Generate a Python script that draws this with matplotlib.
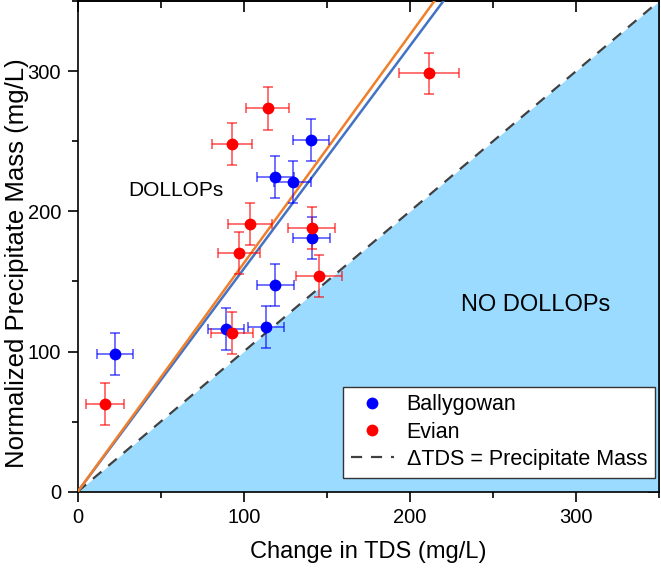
import numpy as np
import matplotlib
matplotlib.use('Agg')
import matplotlib.pyplot as plt
from matplotlib.ticker import MultipleLocator

plt.rcParams['font.family'] = ['Liberation Sans', 'DejaVu Sans']

# Ballygowan samples
bally_x = [22.4, 89.4, 113.4, 119.0, 140.8, 129.4, 119.0, 140.6]
bally_y = [98.5, 116.3, 117.7, 147.2, 180.7, 221.1, 224.7, 250.6]
bally_xerr = [11, 11, 11, 11, 11, 11, 11, 11]
bally_yerr = [15, 15, 15, 15, 15, 15, 15, 15]

# Evian samples
evian_x = [16.4, 92.8, 97.0, 103.8, 140.8, 145.4, 92.8, 114.3, 211.6]
evian_y = [62.3, 113.2, 170.0, 190.9, 188.3, 154.1, 248.0, 273.4, 298.4]
evian_xerr = [11.5, 12.7, 12.8, 13.2, 14, 14, 12.2, 12.8, 18]
evian_yerr = [15, 15, 15, 15, 15, 15, 15, 15, 14.7]

# slopes of the fitted lines through the origin
bally_slope = 1.59
evian_slope = 1.63

xmax = 350
ymax = 350

fig = plt.figure(figsize=(6.61, 5.70), dpi=100)
ax = fig.add_axes([0.1175, 0.1374, 0.8795, 0.8606])

xs = np.array([0, xmax])
# region where precipitate mass < change in TDS
ax.fill_between(xs, 0, xs, color='#9BDBFF', lw=0, zorder=1)
ax.plot(xs, xs, color='#404040', lw=1.6, dashes=(5, 4), zorder=2,
        label='\u0394TDS = Precipitate Mass')

# fit lines
ax.plot(xs, bally_slope * xs, color='#4472C4', lw=1.8, zorder=3)
ax.plot(xs, evian_slope * xs, color='#F07F2C', lw=1.8, zorder=3)

ax.errorbar(bally_x, bally_y, xerr=bally_xerr, yerr=bally_yerr, fmt='none',
            ecolor=(0, 0, 1, 0.6), elinewidth=1.3, capsize=3.5, capthick=1.3, zorder=4)
ax.errorbar(evian_x, evian_y, xerr=evian_xerr, yerr=evian_yerr, fmt='none',
            ecolor=(1, 0, 0, 0.6), elinewidth=1.3, capsize=3.5, capthick=1.3, zorder=4)
ax.plot(bally_x, bally_y, 'o', color='#0000FF', ms=8.5, mec='none', zorder=5,
        label='Ballygowan')
ax.plot(evian_x, evian_y, 'o', color='#FF0000', ms=8.5, mec='none', zorder=5,
        label='Evian')

ax.text(59, 215, 'DOLLOPs', fontsize=15, ha='center', va='center', zorder=6)
ax.text(276, 133, 'NO DOLLOPs', fontsize=17, ha='center', va='center', zorder=6)

ax.set_xlim(0, xmax)
ax.set_ylim(0, ymax)
ax.xaxis.set_major_locator(MultipleLocator(100))
ax.yaxis.set_major_locator(MultipleLocator(100))
ax.xaxis.set_minor_locator(MultipleLocator(50))
ax.yaxis.set_minor_locator(MultipleLocator(50))
ax.tick_params(which='both', direction='out', labelsize=14.5, width=1.2, pad=5)
ax.tick_params(which='major', length=7)
ax.tick_params(which='minor', length=4)

# inward ticks on top and right, without labels
sec_x = ax.secondary_xaxis('top')
sec_x.xaxis.set_major_locator(MultipleLocator(100))
sec_x.xaxis.set_minor_locator(MultipleLocator(50))
sec_x.tick_params(which='both', direction='in', labeltop=False, width=1.2)
sec_x.tick_params(which='major', length=8)
sec_x.tick_params(which='minor', length=5)
sec_y = ax.secondary_yaxis('right')
sec_y.yaxis.set_major_locator(MultipleLocator(100))
sec_y.yaxis.set_minor_locator(MultipleLocator(50))
sec_y.tick_params(which='both', direction='in', labelright=False, width=1.2)
sec_y.tick_params(which='major', length=8)
sec_y.tick_params(which='minor', length=5)

for sp in ax.spines.values():
    sp.set_linewidth(1.2)
for sp in list(sec_x.spines.values()) + list(sec_y.spines.values()):
    sp.set_linewidth(1.2)

ax.set_xlabel('Change in TDS (mg/L)', fontsize=17, labelpad=10)
ax.set_ylabel('Normalized Precipitate Mass (mg/L)', fontsize=18.5)
ax.yaxis.set_label_coords(-0.083, 0.466)

handles, labels = ax.get_legend_handles_labels()
order = [1, 2, 0]
leg = ax.legend([handles[i] for i in order], [labels[i] for i in order],
                loc='lower right', bbox_to_anchor=(1.0, 0.02), fontsize=15.5,
                frameon=True, fancybox=False, framealpha=1, edgecolor='#333333',
                borderpad=0.35, labelspacing=0.3, handlelength=2.0,
                handletextpad=0.6, borderaxespad=0.2)
leg.get_frame().set_linewidth(1.0)
leg.set_zorder(10)

fig.savefig('out.png', dpi=100)
